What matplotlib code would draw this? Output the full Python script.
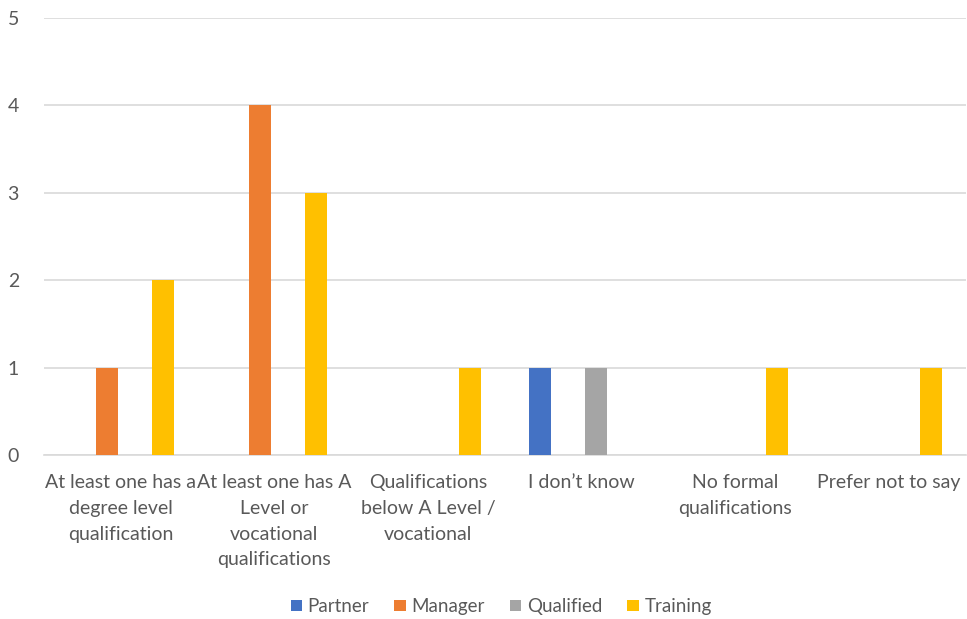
import numpy as np
import matplotlib.pyplot as plt

categories = [
    "At least one has a\ndegree level\nqualification",
    "At least one has A\nLevel or\nvocational\nqualifications",
    "Qualifications\nbelow A Level /\nvocational",
    "I don\u2019t know",
    "No formal\nqualifications",
    "Prefer not to say",
]
series_names = ["Partner", "Manager", "Qualified", "Training"]
partner = [0, 0, 0, 1, 0, 0]
manager = [1, 4, 0, 0, 0, 0]
qualified = [0, 0, 0, 1, 0, 0]
training = [2, 3, 1, 0, 1, 1]
colors = ["#4472C4", "#ED7D31", "#A5A5A5", "#FFC000"]

plt.rcParams['font.family'] = ['Lato', 'DejaVu Sans']

fig = plt.figure(figsize=(9.67, 6.19), dpi=100)
ax = fig.add_axes([0.0455, 0.265, 0.953, 0.706])

x = np.arange(len(categories))
slot = 0.182
width = 0.143
for i, (name, vals) in enumerate(zip(series_names, [partner, manager, qualified, training])):
    ax.bar(x + (i - 1.5) * slot, vals, width, color=colors[i], label=name, zorder=3)

ax.set_xlim(-0.5, len(categories) - 0.5)
ax.set_ylim(0, 5)
ax.set_yticks(range(6))
ax.grid(axis='y', color='#D9D9D9', linewidth=1.2, zorder=0)
for s in ['top', 'right', 'left']:
    ax.spines[s].set_visible(False)
ax.spines['bottom'].set_color('#D9D9D9')
ax.spines['bottom'].set_linewidth(1.2)
ax.set_xticks(x)
ax.set_xticklabels(categories, linespacing=1.62)
ax.tick_params(axis='both', length=0, colors='#595959', labelsize=14)
ax.tick_params(axis='x', pad=14)
ax.tick_params(axis='y', pad=18)

ax.legend(loc='lower center', bbox_to_anchor=(0.496, -0.405), ncol=4, frameon=False,
          fontsize=13.5, handlelength=0.6, handleheight=0.6, handletextpad=0.3,
          columnspacing=1.35, labelcolor='#595959')

fig.savefig("out.png", dpi=100)
